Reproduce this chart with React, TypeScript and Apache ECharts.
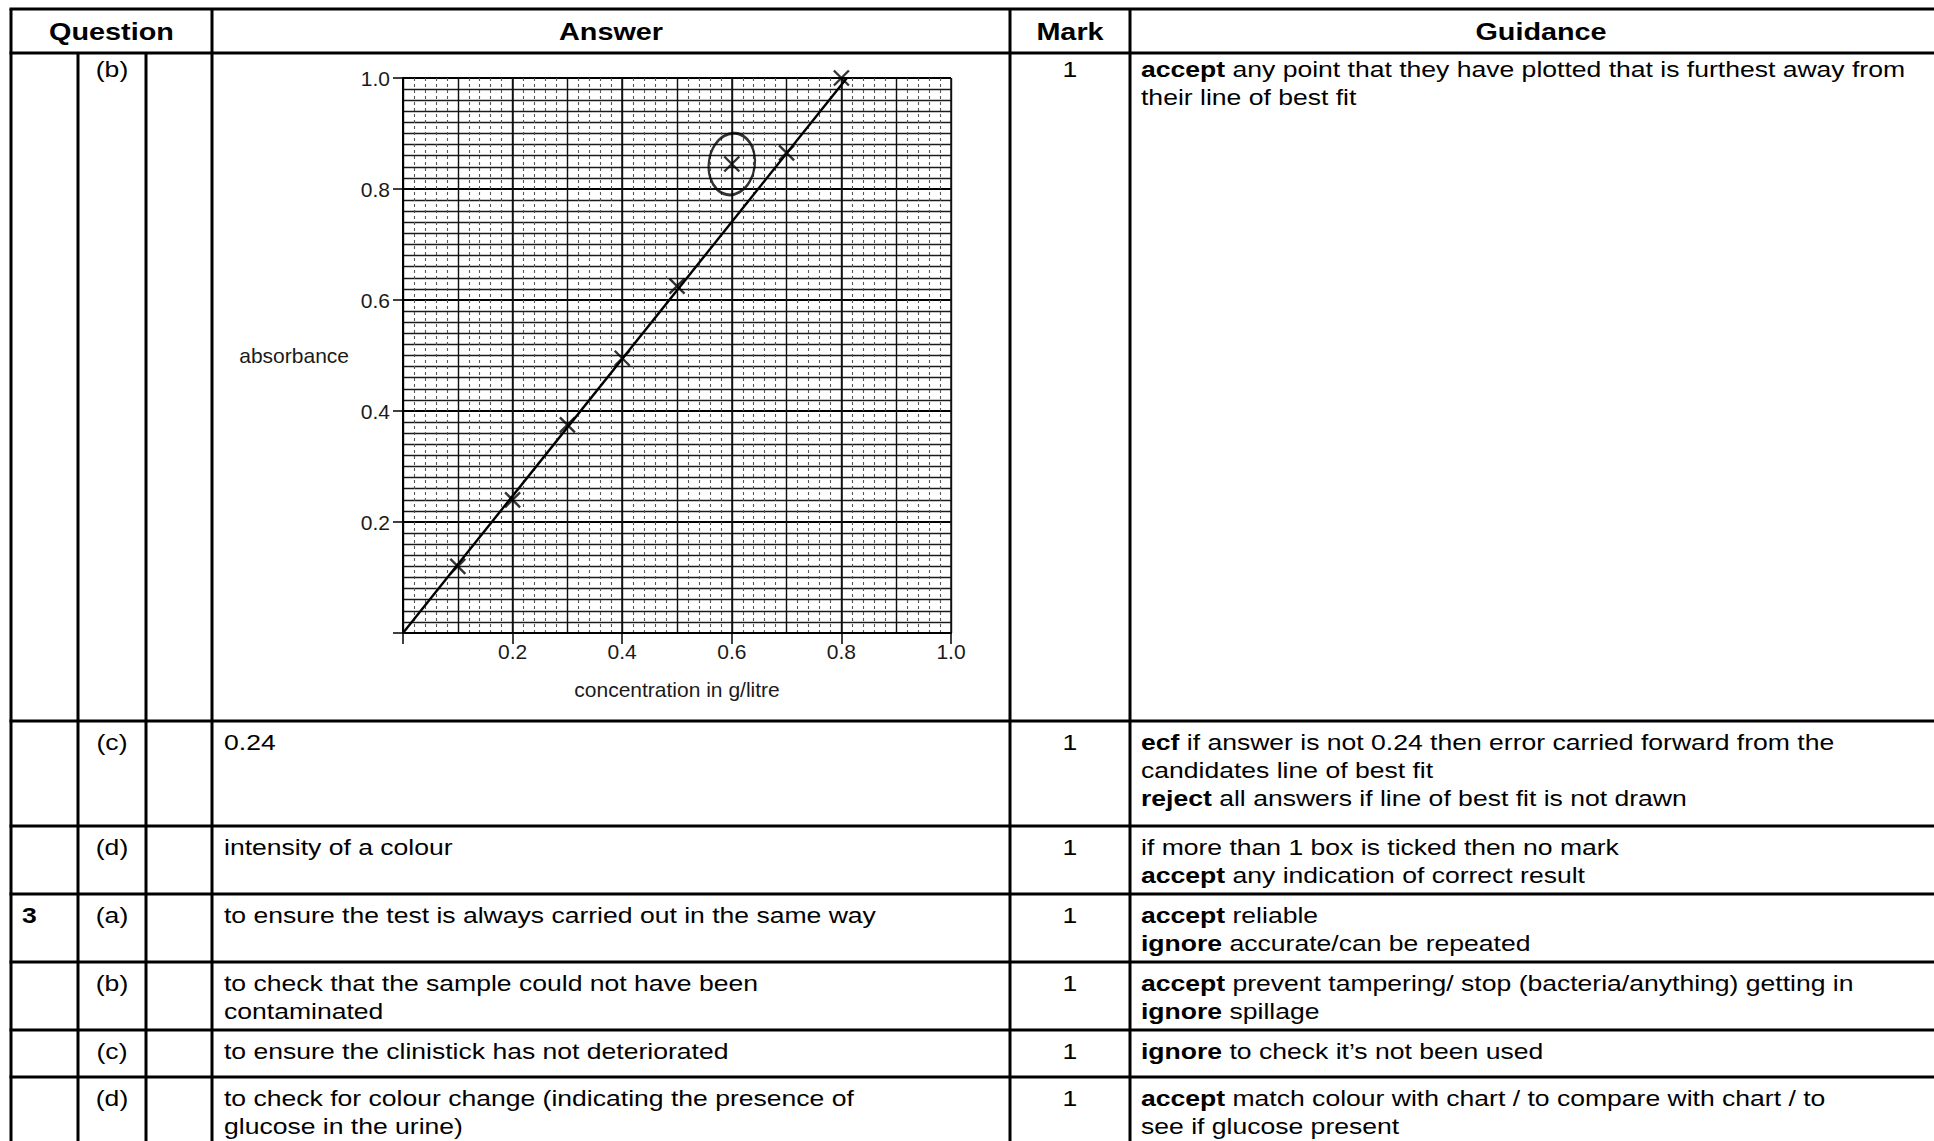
import React, { useEffect, useRef } from "react";
import * as echarts from "echarts";

// ---------- chart data ----------
const concentration = [0.1, 0.2, 0.3, 0.4, 0.5, 0.6, 0.7, 0.8];
const absorbance = [0.12, 0.24, 0.375, 0.495, 0.625, 0.845, 0.865, 1.0];
const bestFitX = [0, 0.81];
const bestFitY = [0, 1.0];
const circledX = [0.6];
const circledY = [0.845];
const axisMin = 0;
const axisMax = 1;
const labelStep = 0.2;
const xName = "concentration in g/litre";
const yName = "absorbance";

// ---------- table data ----------
const headers = ["Question", "Answer", "Mark", "Guidance"];
const questionNo = ["", "", "", "3", "", "", ""];
const partLabels = ["(b)", "(c)", "(d)", "(a)", "(b)", "(c)", "(d)"];
const answers: string[][] = [
  [],
  ["0.24"],
  ["intensity of a colour"],
  ["to ensure the test is always carried out in the same way"],
  ["to check that the sample could not have been", "contaminated"],
  ["to ensure the clinistick has not deteriorated"],
  ["to check for colour change (indicating the presence of", "glucose in the urine)"],
];
const marks = ["1", "1", "1", "1", "1", "1", "1"];
const guidance: string[][] = [
  ["{b|accept} any point that they have plotted that is furthest away from", "their line of best fit"],
  [
    "{b|ecf} if answer is not 0.24 then error carried forward from the",
    "candidates line of best fit",
    "{b|reject} all answers if line of best fit is not drawn",
  ],
  ["if more than 1 box is ticked then no mark", "{b|accept} any indication of correct result"],
  ["{b|accept} reliable", "{b|ignore} accurate/can be repeated"],
  ["{b|accept} prevent tampering/ stop (bacteria/anything) getting in", "{b|ignore} spillage"],
  ["{b|ignore} to check it\u2019s not been used"],
  ["{b|accept} match colour with chart / to compare with chart / to", "see if glucose present"],
];

// ---------- layout ----------
const W = 1934;
const H = 1141;
const colX = [11, 78, 146, 212, 1010, 1130];
const tableTop = 9;
const headerBottom = 53;
const rowBottoms = [721, 826, 894, 962, 1030, 1077, 1170];
const rowTextOffset = [16, 21, 21, 21, 21, 21, 21];
const FONT = "Arial, 'Liberation Sans', Helvetica, sans-serif";
const BODY = 22.5;
const SX = 1.18;
const LINE_H = 28;

function buildGraphic() {
  const g: any[] = [];
  const lw = 3;
  const hl = (y: number, x1: number, x2: number) =>
    g.push({ type: "line", z: 50, shape: { x1, y1: y, x2, y2: y }, style: { stroke: "#000", lineWidth: lw } });
  const vl = (x: number, y1: number, y2: number) =>
    g.push({ type: "line", z: 50, shape: { x1: x, y1, x2: x, y2 }, style: { stroke: "#000", lineWidth: lw } });

  hl(tableTop, colX[0] - 1.5, W + 10);
  hl(headerBottom, colX[0] - 1.5, W + 10);
  rowBottoms.forEach((y) => hl(y, colX[0] - 1.5, W + 10));
  vl(colX[0], tableTop, H + 10);
  vl(colX[1], headerBottom, H + 10);
  vl(colX[2], headerBottom, H + 10);
  vl(colX[3], tableTop, H + 10);
  vl(colX[4], tableTop, H + 10);
  vl(colX[5], tableTop, H + 10);

  const txt = (text: string, x: number, y: number, align: string, bold = false, size = BODY, sx = SX) =>
    g.push({
      type: "text",
      z: 60,
      x,
      y,
      scaleX: sx,
      style: {
        text,
        fontSize: size,
        fontFamily: FONT,
        fontWeight: bold ? "bold" : "normal",
        fill: "#000",
        align,
        verticalAlign: "middle",
        rich: {
          b: { fontSize: size, fontFamily: FONT, fontWeight: "bold", fill: "#000" },
        },
      },
    });

  const hy = (tableTop + headerBottom) / 2 + 1;
  txt(headers[0], (colX[0] + colX[3]) / 2, hy, "center", true, 24, 1.2);
  txt(headers[1], (colX[3] + colX[4]) / 2, hy, "center", true, 24, 1.2);
  txt(headers[2], (colX[4] + colX[5]) / 2, hy, "center", true, 24, 1.2);
  txt(headers[3], 1541, hy, "center", true, 24, 1.2);

  let top = headerBottom;
  rowBottoms.forEach((bottom, i) => {
    const y0 = top + rowTextOffset[i];
    if (questionNo[i]) txt(questionNo[i], colX[0] + 11, y0, "left", true);
    txt(partLabels[i], (colX[1] + colX[2]) / 2, y0, "center");
    answers[i].forEach((line, k) => txt(line, colX[3] + 12, y0 + k * LINE_H, "left"));
    txt(marks[i], (colX[4] + colX[5]) / 2, y0, "center");
    guidance[i].forEach((line, k) => txt(line, colX[5] + 11, y0 + k * LINE_H, "left"));
    top = bottom;
  });
  return g;
}

export default function App() {
  const ref = useRef<HTMLDivElement>(null);
  useEffect(() => {
    if (!ref.current) return;
    const chart = echarts.init(ref.current, null, { renderer: "svg" });
    const fmt = (v: number) => (v === 0 ? "" : v.toFixed(1));
    const axisText = { fontSize: 21, fontFamily: FONT, color: "#1a1a1a" };
    chart.setOption({
      animation: false,
      backgroundColor: "#fff",
      grid: { left: 403, top: 78, width: 548, height: 555, containLabel: false },
      xAxis: [
        {
          type: "value",
          min: axisMin,
          max: axisMax,
          interval: labelStep,
          name: xName,
          nameLocation: "middle",
          nameGap: 46,
          nameTextStyle: { fontSize: 21, fontFamily: FONT, color: "#1a1a1a" },
          axisLine: { show: true, onZero: false, lineStyle: { color: "#000", width: 2 } },
          axisTick: { show: true, length: 11, lineStyle: { color: "#000", width: 1.5 } },
          axisLabel: { ...axisText, margin: 8, formatter: fmt },
          splitLine: { show: true, lineStyle: { color: "#111", width: 1.5 } },
          minorTick: { show: false, splitNumber: 10 },
          minorSplitLine: { show: true, lineStyle: { color: "#555", width: 1.1, type: [3, 3] } },
        },
        {
          type: "value",
          min: axisMin,
          max: axisMax,
          interval: labelStep / 2,
          position: "bottom",
          axisLine: { show: false },
          axisTick: { show: false },
          axisLabel: { show: false },
          splitLine: { show: true, lineStyle: { color: "#111", width: 1.4 } },
        },
      ],
      yAxis: [
        {
          type: "value",
          min: axisMin,
          max: axisMax,
          interval: labelStep,
          name: yName,
          nameLocation: "middle",
          nameRotate: 0,
          nameGap: 54,
          nameTextStyle: { fontSize: 21, fontFamily: FONT, color: "#1a1a1a", align: "right" },
          axisLine: { show: true, onZero: false, lineStyle: { color: "#000", width: 2 } },
          axisTick: { show: true, length: 10, lineStyle: { color: "#000", width: 1.5 } },
          axisLabel: { ...axisText, margin: 13, formatter: fmt },
          splitLine: { show: true, lineStyle: { color: "#000", width: 1.8 } },
          minorTick: { show: false, splitNumber: 10 },
          minorSplitLine: { show: true, lineStyle: { color: "#1a1a1a", width: 1.4 } },
        },
      ],
      series: [
        {
          type: "line",
          data: bestFitX.map((x, i) => [x, bestFitY[i]]),
          symbol: "none",
          lineStyle: { color: "#000", width: 2.4 },
          z: 5,
        },
        {
          type: "scatter",
          data: concentration.map((x, i) => [x, absorbance[i]]),
          symbol: "path://M0,0L10,10M10,0L0,10",
          symbolSize: 15,
          itemStyle: { color: "none", borderColor: "#000", borderWidth: 2.4 },
          z: 6,
        },
        {
          type: "scatter",
          data: circledX.map((x, i) => [x, circledY[i]]),
          symbol: "circle",
          symbolSize: [46, 62],
          symbolRotate: -8,
          itemStyle: { color: "none", borderColor: "#000", borderWidth: 2.6 },
          z: 7,
        },
      ],
      graphic: buildGraphic(),
    });
    return () => chart.dispose();
  }, []);
  return (
    <div
      ref={ref}
      style={{ position: "fixed", left: 0, top: 0, width: W, height: H, background: "#fff" }}
    />
  );
}
